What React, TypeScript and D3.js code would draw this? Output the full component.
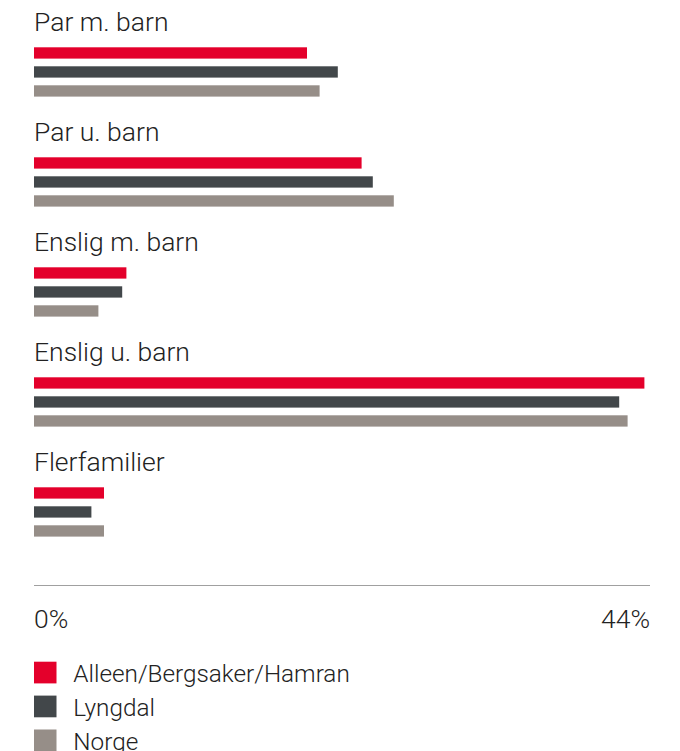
import React from "react";
import * as d3 from "d3";

const categories = ["Par m. barn", "Par u. barn", "Enslig m. barn", "Enslig u. barn", "Flerfamilier"];
const seriesNames = ["Alleen/Bergsaker/Hamran", "Lyngdal", "Norge"];
const alleen = [19.5, 23.4, 6.6, 43.6, 5.0];
const lyngdal = [21.7, 24.2, 6.3, 41.8, 4.1];
const norge = [20.4, 25.7, 4.6, 42.4, 5.0];
const seriesValues = [alleen, lyngdal, norge];
const colors = ["#e4002b", "#42474a", "#968e88"];
const axisDomain = [0, 44];
const tickLabels = ["0%", "44%"];

const W = 680;
const H = 751;
const FONT = "Roboto, 'Noto Sans', sans-serif";

export default function App() {
  const x = d3.scaleLinear().domain(axisDomain).range([34, 650]);
  const yCat = d3.scaleBand<string>().domain(categories).range([0, 550]).padding(0);
  const ySeries = d3.scaleBand<number>().domain([0, 1, 2]).range([47.3, 96.6]).paddingInner(0.405).paddingOuter(0);
  const barH = ySeries.bandwidth();

  return (
    <svg width={W} height={H} style={{ position: "absolute", left: 0, top: 0, background: "#fff" }} fontFamily={FONT}>
      {categories.map((c, ci) => {
        const gy = yCat(c) as number;
        return (
          <g key={c} transform={`translate(0,${gy})`}>
            <text x={34} y={30.7} fontSize={26.5} fontWeight={300} fill="#222">
              {c}
            </text>
            {seriesValues.map((vals, si) => (
              <rect
                key={si}
                x={x(0)}
                y={ySeries(si) as number}
                width={x(vals[ci]) - x(0)}
                height={barH}
                fill={colors[si]}
              />
            ))}
          </g>
        );
      })}
      <line x1={x(axisDomain[0])} x2={x(axisDomain[1])} y1={585.5} y2={585.5} stroke="#a0a0a0" strokeWidth={1} />
      <text x={x(axisDomain[0])} y={628} fontSize={26.5} fontWeight={300} fill="#222" textAnchor="start">
        {tickLabels[0]}
      </text>
      <text x={x(axisDomain[1])} y={628} fontSize={26.5} fontWeight={300} fill="#222" textAnchor="end">
        {tickLabels[1]}
      </text>
      {seriesNames.map((s, i) => (
        <g key={s} transform={`translate(34,${661.7 + i * 33.9})`}>
          <rect x={0} y={0} width={22.5} height={21.7} fill={colors[i]} />
          <text x={39.3} y={20.5} fontSize={24.3} fontWeight={300} fill="#222">
            {s}
          </text>
        </g>
      ))}
    </svg>
  );
}
